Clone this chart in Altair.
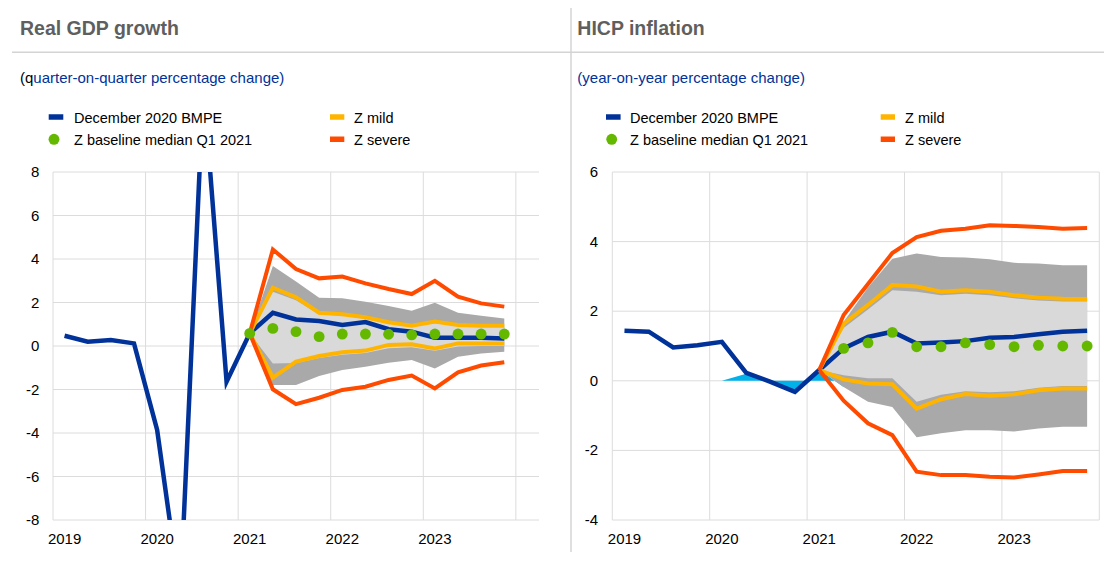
import altair as alt
import pandas as pd

# ---------------- data ----------------
years = [2019] * 4 + [2020] * 4 + [2021] * 4 + [2022] * 4 + [2023] * 4
quarters = [1, 2, 3, 4] * 5
N = None

# Real GDP growth (quarter-on-quarter %)
gdp_bmpe = [0.47, 0.2, 0.28, 0.12, -3.86, -11.5, 12.0, -1.64, 0.58, 1.53, 1.22, 1.15,
            0.97, 1.1, 0.77, 0.66, 0.38, 0.38, 0.38, 0.35]
gdp_green = [N] * 8 + [0.58, 0.81, 0.66, 0.43, 0.55, 0.55, 0.54, 0.51, 0.55, 0.55, 0.55, 0.55]
gdp_sev_up = [N] * 8 + [0.58, 4.44, 3.54, 3.11, 3.19, 2.88, 2.62, 2.39, 3.0, 2.27, 1.96, 1.81]
gdp_sev_lo = [N] * 8 + [0.58, -1.99, -2.67, -2.38, -2.02, -1.87, -1.56, -1.36, -1.95, -1.21, -0.9, -0.75]
gdp_mild_up = [N] * 8 + [0.58, 2.68, 2.24, 1.53, 1.46, 1.32, 1.09, 0.93, 1.12, 0.97, 0.93, 0.93]
gdp_mild_lo = [N] * 8 + [0.58, -1.45, -0.72, -0.46, -0.29, -0.21, 0.05, 0.08, -0.11, 0.12, 0.12, 0.12]
gdp_dark_up = [N] * 8 + [0.58, 3.68, 2.96, 2.22, 2.19, 2.04, 1.84, 1.62, 1.99, 1.53, 1.39, 1.27]
gdp_dark_lo = [N] * 8 + [0.58, -1.79, -1.79, -1.38, -1.1, -0.95, -0.77, -0.64, -1.03, -0.49, -0.34, -0.26]
gdp_light_up = [N] * 8 + [0.58, 2.5, 2.1, 1.45, 1.4, 1.25, 1.03, 0.88, 1.05, 0.92, 0.88, 0.88]
gdp_light_lo = [N] * 8 + [0.58, -0.8, -0.78, -0.55, -0.4, -0.32, -0.1, -0.06, -0.22, -0.02, 0.0, 0.0]

# HICP inflation (year-on-year %)
hicp_bmpe = [1.44, 1.41, 0.96, 1.02, 1.12, 0.23, -0.03, -0.32, 0.31, 0.93, 1.26, 1.41,
             1.07, 1.1, 1.14, 1.24, 1.26, 1.34, 1.41, 1.44]
hicp_green = [N] * 9 + [0.93, 1.09, 1.39, 0.98, 0.98, 1.09, 1.04, 0.98, 1.02, 1.0, 1.0]
hicp_sev_up = [N] * 8 + [0.31, 1.89, 2.78, 3.67, 4.13, 4.31, 4.37, 4.47, 4.45, 4.42, 4.37, 4.39]
hicp_sev_lo = [N] * 8 + [0.31, -0.57, -1.22, -1.56, -2.61, -2.71, -2.71, -2.76, -2.78, -2.69, -2.59, -2.59]
hicp_mild_up = [N] * 8 + [0.31, 1.64, 2.18, 2.75, 2.71, 2.56, 2.6, 2.56, 2.46, 2.39, 2.36, 2.35]
hicp_mild_lo = [N] * 8 + [0.31, 0.04, -0.08, -0.1, -0.8, -0.53, -0.38, -0.43, -0.39, -0.27, -0.22, -0.22]
hicp_dark_up = [N] * 8 + [0.31, 1.7, 2.68, 3.51, 3.66, 3.56, 3.54, 3.49, 3.39, 3.37, 3.32, 3.32]
hicp_dark_lo = [N] * 8 + [0.31, -0.18, -0.6, -0.75, -1.62, -1.51, -1.42, -1.42, -1.46, -1.37, -1.32, -1.32]
hicp_light_up = [N] * 8 + [0.31, 1.52, 2.05, 2.6, 2.56, 2.46, 2.5, 2.46, 2.37, 2.31, 2.28, 2.28]
hicp_light_lo = [N] * 8 + [0.31, 0.16, 0.07, 0.07, -0.6, -0.4, -0.3, -0.33, -0.3, -0.2, -0.15, -0.15]
hicp_lightblue = [N] * 4 + [0.0, 0.2, -0.03, -0.28, 0.31, -0.18] + [N] * 10

gdp_yticks = [-8, -6, -4, -2, 0, 2, 4, 6, 8]
hicp_yticks = [-4, -2, 0, 2, 4, 6]
grid_years = [2019, 2020, 2021, 2022, 2023, 2024]
label_years = [2019, 2020, 2021, 2022, 2023]

legend_labels = ["December 2020 BMPE", "Z baseline median Q1 2021", "Z mild", "Z severe"]

# ---------------- styles ----------------
BLUE = "#003299"
YELLOW = "#ffb400"
ORANGE = "#ff4b00"
GREEN = "#65b800"
DARK = "#a9a9a9"
LIGHT = "#d9d9d9"
LBLUE = "#00b1ea"
GRID = "#dcdcdc"
SEP = "#d4d4d4"
FONT = "Liberation Sans"

PW, PH = 486, 348          # left plot area (reference frame for everything)

L_X = alt.Scale(domain=[2019, 2024.25], range=[0, PW], nice=False, zero=False)
L_Y = alt.Scale(domain=[-8, 8], range=[PH, 0], nice=False, zero=False)
R_X = alt.Scale(domain=[2019, 2024], range=[559.3, 1046.3], nice=False, zero=False)
R_Y = alt.Scale(domain=[-4, 6], range=[PH, 0], nice=False, zero=False)


def tpos(y, q):
    return y + (q - 0.5) / 4


def series(values):
    rows = [{"t": tpos(y, q), "v": v} for y, q, v in zip(years, quarters, values) if v is not None]
    return pd.DataFrame(rows)


def band(lo, hi):
    rows = [{"t": tpos(y, q), "lo": a, "hi": b}
            for y, q, a, b in zip(years, quarters, lo, hi) if a is not None and b is not None]
    return pd.DataFrame(rows)


def panel(xs, ys, x0, x1, yticks, ylab_x, bmpe, green, sev_up, sev_lo, mild_up, mild_lo,
          dark_up, dark_lo, light_up, light_lo, lightblue=None, clip=False):
    X = lambda f: alt.X(f, type="quantitative", scale=xs, axis=None)
    Y = lambda f: alt.Y(f, type="quantitative", scale=ys, axis=None)
    layers = []
    layers.append(
        alt.Chart(pd.DataFrame({"v": yticks})).mark_rule(color=GRID, strokeWidth=1).encode(
            y=Y("v"), x=alt.XDatum(x0, type="quantitative", scale=xs, axis=None), x2=alt.X2Datum(x1))
    )
    layers.append(
        alt.Chart(pd.DataFrame({"t": grid_years})).mark_rule(color=GRID, strokeWidth=1).encode(
            x=X("t"), y=alt.value(0), y2=alt.value(PH))
    )
    if lightblue is not None:
        layers.append(
            alt.Chart(series(lightblue)).mark_area(color=LBLUE, opacity=1).encode(
                x=X("t"), y=Y("v"), y2=alt.Y2Datum(0))
        )
    layers.append(alt.Chart(band(dark_lo, dark_up)).mark_area(color=DARK, opacity=1).encode(
        x=X("t"), y=Y("lo"), y2=alt.Y2("hi")))
    layers.append(alt.Chart(band(light_lo, light_up)).mark_area(color=LIGHT, opacity=1).encode(
        x=X("t"), y=Y("lo"), y2=alt.Y2("hi")))
    layers.append(alt.Chart(series(bmpe)).mark_line(color=BLUE, strokeWidth=4.5, clip=clip).encode(
        x=X("t"), y=Y("v")))
    for vals in (mild_up, mild_lo):
        layers.append(alt.Chart(series(vals)).mark_line(color=YELLOW, strokeWidth=4).encode(
            x=X("t"), y=Y("v")))
    for vals in (sev_up, sev_lo):
        layers.append(alt.Chart(series(vals)).mark_line(color=ORANGE, strokeWidth=4).encode(
            x=X("t"), y=Y("v")))
    layers.append(alt.Chart(series(green)).mark_circle(color=GREEN, size=118, opacity=1).encode(
        x=X("t"), y=Y("v")))
    # tick labels
    layers.append(
        alt.Chart(pd.DataFrame({"v": yticks, "lab": [str(v) for v in yticks]})).mark_text(
            align="right", baseline="middle", font=FONT, fontSize=15, color="#000000").encode(
            y=Y("v"), x=alt.value(ylab_x), text="lab:N")
    )
    layers.append(
        alt.Chart(pd.DataFrame({"t": [tpos(y, 1) for y in label_years],
                                "lab": [str(y) for y in label_years]})).mark_text(
            align="center", baseline="middle", font=FONT, fontSize=15, color="#000000").encode(
            x=X("t"), y=alt.value(PH + 18.5), text="lab:N")
    )
    return alt.layer(*layers)


left = panel(L_X, L_Y, 2019, 2024.25, gdp_yticks, -13.7, gdp_bmpe, gdp_green, gdp_sev_up, gdp_sev_lo,
             gdp_mild_up, gdp_mild_lo, gdp_dark_up, gdp_dark_lo, gdp_light_up, gdp_light_lo, clip=True)
right = panel(R_X, R_Y, 2019, 2024, hicp_yticks, 545.2, hicp_bmpe, hicp_green, hicp_sev_up, hicp_sev_lo,
              hicp_mild_up, hicp_mild_lo, hicp_dark_up, hicp_dark_lo, hicp_light_up, hicp_light_lo,
              lightblue=hicp_lightblue)

one = pd.DataFrame({"a": [0]})


def text(s, x, y, size=15, color="#000000", weight="normal"):
    return alt.Chart(one).mark_text(align="left", baseline="alphabetic", font=FONT, fontSize=size,
                                    color=color, fontWeight=weight).encode(
        x=alt.value(x), y=alt.value(y), text=alt.value(s))


def rect(x1, x2, y1, y2, color):
    return alt.Chart(one).mark_rect(color=color).encode(
        x=alt.value(x1), x2=alt.value(x2), y=alt.value(y1), y2=alt.value(y2))


def dot(x, y):
    return alt.Chart(one).mark_circle(color=GREEN, size=118, opacity=1).encode(x=alt.value(x), y=alt.value(y))


deco = [
    alt.Chart(one).mark_rule(color=SEP, strokeWidth=1.5).encode(
        x=alt.value(-41), x2=alt.value(1051), y=alt.value(-119.7)),
    alt.Chart(one).mark_rule(color=SEP, strokeWidth=1.5).encode(
        x=alt.value(518), y=alt.value(-164), y2=alt.value(383)),
    text("Real GDP growth", -33, -137, size=19.5, color="#5f5f5f", weight="bold"),
    text("HICP inflation", 524.3, -137, size=19.5, color="#5f5f5f", weight="bold"),
    text("(q", -33, -89),
    text("uarter-on-quarter percentage change)", -33 + 13.33, -89, color=BLUE),
    text("(year-on-year percentage change)", 524.3, -89, color=BLUE),
]
for bx, gx, tx, yx, ytx in [(-4.3, 1.0, 21, 277, 301), (553, 558.7, 577, 827.7, 852)]:
    deco += [
        rect(bx, bx + 14.6, -57.75, -52.25, BLUE),
        dot(gx, -32.7),
        rect(yx, yx + 14.3, -57.75, -52.25, YELLOW),
        rect(yx, yx + 14.3, -35.5, -30.0, ORANGE),
        text(legend_labels[0], tx, -48.7, size=14.5),
        text(legend_labels[1], tx, -27, size=14.5),
        text(legend_labels[2], ytx, -48.7, size=14.5),
        text(legend_labels[3], ytx, -27, size=14.5),
    ]

chart = alt.layer(left, right, *deco).resolve_scale(x="independent", y="independent").properties(
    width=PW, height=PH,
    padding={"left": 45, "top": 164, "right": 1096 - 45 - PW, "bottom": 32},
    autosize=alt.AutoSizeParams(type="none"),
).configure_view(stroke=None)

chart.save("out.html", embed_options={"renderer": "svg", "actions": False})
